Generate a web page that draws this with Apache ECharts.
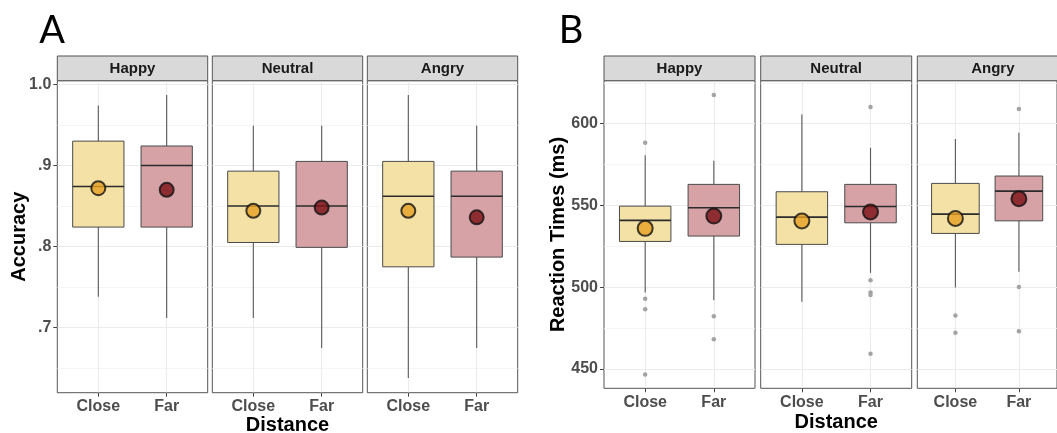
<!DOCTYPE html>
<html>
<head>
<meta charset="utf-8">
<script src="https://cdn.jsdelivr.net/npm/echarts@6/dist/echarts.min.js"></script>
<style>
  html, body { margin: 0; padding: 0; background: #fff; }
  #chart { width: 1057px; height: 433px; }
</style>
</head>
<body>
<div id="chart"></div>
<script>
// ---------------- DATA ----------------
const facets = ['Happy', 'Neutral', 'Angry'];
const distances = ['Close', 'Far'];

// Panel A: Accuracy  (per facet: [Close, Far])
const accMin    = [[0.738, 0.712], [0.712, 0.675], [0.638, 0.675]];
const accQ1     = [[0.824, 0.824], [0.805, 0.799], [0.775, 0.787]];
const accMedian = [[0.874, 0.900], [0.850, 0.850], [0.862, 0.862]];
const accQ3     = [[0.930, 0.924], [0.893, 0.905], [0.905, 0.893]];
const accMax    = [[0.974, 0.987], [0.949, 0.949], [0.987, 0.949]];
const accMean   = [[0.872, 0.870], [0.844, 0.848], [0.844, 0.836]];
const accTickValues = [0.7, 0.8, 0.9, 1.0];
const accTickLabels = ['.7', '.8', '.9', '1.0'];
const accMinorValues = [0.65, 0.75, 0.85, 0.95];

// Panel B: Reaction times (ms)
const rtMin    = [[496.8, 492.1], [491.1, 508.8], [499.9, 509.4]];
const rtQ1     = [[528.0, 531.3], [526.2, 539.4], [532.9, 540.6]];
const rtMedian = [[540.9, 548.6], [542.9, 549.4], [544.7, 558.8]];
const rtQ3     = [[549.6, 562.9], [558.4, 562.9], [563.5, 568.0]];
const rtMax    = [[580.7, 577.4], [605.7, 585.3], [590.6, 594.5]];
const rtMean   = [[536.0, 543.5], [540.5, 546.0], [542.1, 554.1]];
const rtOutliers = [
  [[588.4, 492.9, 486.6, 446.6], [617.6, 482.3, 468.2]],
  [[], [610.2, 504.3, 496.8, 495.2, 459.3]],
  [[482.7, 472.1], [609.0, 500.2, 473.1]]
];
const rtTickValues = [450, 500, 550, 600];
const rtTickLabels = ['450', '500', '550', '600'];
const rtMinorValues = [475, 525, 575, 625];

// ---------------- STYLE / LAYOUT ----------------
const boxFills = ['#f4e1a6', '#d6a2a6'];
const meanFills = ['#e6a024', '#7a1014'];
const panels = [
  { key: 'A', lefts: [57.3, 212.3, 367.3], width: 150.4, top: 80.7, height: 312,
    yMin: 0.6198, yMax: 1.0045, stats: [accMin, accQ1, accMedian, accQ3, accMax], mean: accMean,
    outliers: null, ticks: accTickValues, tickLabels: accTickLabels, minor: accMinorValues,
    title: 'Accuracy', titleX: 19, letterX: 52, distY: 425, meanSize: 14 },
  { key: 'B', lefts: [604, 760.7, 917.3], width: 151, top: 80.7, height: 307.6,
    yMin: 438.2, yMax: 626.3, stats: [rtMin, rtQ1, rtMedian, rtQ3, rtMax], mean: rtMean,
    outliers: rtOutliers, ticks: rtTickValues, tickLabels: rtTickLabels, minor: rtMinorValues,
    title: 'Reaction Times (ms)', titleX: 558, letterX: 571, distY: 422, meanSize: 15 }
];
const stripTop = 56, stripH = 24.7;
const FONT = '"Liberation Sans", Arial, sans-serif';

const grids = [], xAxes = [], yAxes = [], series = [], graphics = [];

function renderBox(params, api) {
  const x = api.value(0);
  const lo = api.coord([x, api.value(1)]);
  const q1 = api.coord([x, api.value(2)]);
  const md = api.coord([x, api.value(3)]);
  const q3 = api.coord([x, api.value(4)]);
  const hi = api.coord([x, api.value(5)]);
  const w = api.size([0.75, 0])[0];
  const fill = boxFills[params.dataIndex];
  return {
    type: 'group',
    children: [
      { type: 'line', shape: { x1: lo[0], y1: lo[1], x2: q1[0], y2: q1[1] }, style: { stroke: '#595959', lineWidth: 1.1 } },
      { type: 'line', shape: { x1: q3[0], y1: q3[1], x2: hi[0], y2: hi[1] }, style: { stroke: '#595959', lineWidth: 1.1 } },
      { type: 'rect', shape: { x: q3[0] - w / 2, y: q3[1], width: w, height: q1[1] - q3[1] },
        style: { fill: fill, stroke: '#4a4a4a', lineWidth: 1 } },
      { type: 'line', shape: { x1: md[0] - w / 2, y1: md[1], x2: md[0] + w / 2, y2: md[1] },
        style: { stroke: '#2b2b2b', lineWidth: 1.6 } }
    ]
  };
}

function nearIdx(arr, v) { return arr.findIndex(t => Math.abs(t - v) < 1e-6); }

panels.forEach((p, pi) => {
  p.lefts.forEach((left, fi) => {
    const gi = grids.length;
    grids.push({ left: left, top: p.top, width: p.width, height: p.height,
      show: true, borderColor: '#555', borderWidth: 1, backgroundColor: 'transparent', containLabel: false });
    xAxes.push({
      type: 'value', gridIndex: gi, min: 0.4, max: 2.6,
      axisLine: { show: false },
      splitLine: { show: false },
      axisTick: { show: true, customValues: [1, 2], length: 4, lineStyle: { color: '#444', width: 1 } },
      axisLabel: { show: true, customValues: [1, 2], margin: 6,
        formatter: v => distances[Math.round(v) - 1],
        color: '#4d4d4d', fontFamily: FONT, fontWeight: 'bold', fontSize: 16 }
    });
    const first = fi === 0;
    yAxes.push({
      type: 'value', gridIndex: gi, min: p.yMin, max: p.yMax,
      axisLine: { show: false },
      splitLine: { show: false },
      axisTick: { show: first, customValues: p.ticks, length: 4, lineStyle: { color: '#444', width: 1 } },
      axisLabel: { show: first, customValues: p.ticks, margin: 6,
        formatter: v => { const i = nearIdx(p.ticks, v); return i >= 0 ? p.tickLabels[i] : ''; },
        color: '#4d4d4d', fontFamily: FONT, fontWeight: 'bold', fontSize: 16 }
    });

    // grid lines (from tick arrays)
    const ml = [];
    p.ticks.forEach(v => ml.push({ yAxis: v, lineStyle: { color: '#ebebeb', width: 1.1 } }));
    p.minor.forEach(v => { if (v > p.yMin && v < p.yMax) ml.push({ yAxis: v, lineStyle: { color: '#f2f2f2', width: 0.8 } }); });
    [1, 2].forEach(v => ml.push({ xAxis: v, lineStyle: { color: '#ebebeb', width: 1.1 } }));
    series.push({
      type: 'scatter', xAxisIndex: gi, yAxisIndex: gi, data: [], z: 0, zlevel: 0, silent: true,
      markLine: { silent: true, z: 0, symbol: ['none', 'none'], label: { show: false }, animation: false,
        lineStyle: { type: 'solid' }, data: ml }
    });

    // boxes
    const boxData = distances.map((d, di) => [di + 1,
      p.stats[0][fi][di], p.stats[1][fi][di], p.stats[2][fi][di], p.stats[3][fi][di], p.stats[4][fi][di]]);
    series.push({
      type: 'custom', xAxisIndex: gi, yAxisIndex: gi, z: 6, silent: true,
      renderItem: renderBox, encode: { x: 0, y: [1, 2, 3, 4, 5] }, data: boxData
    });

    // outliers
    if (p.outliers) {
      const od = [];
      distances.forEach((d, di) => p.outliers[fi][di].forEach(v => od.push([di + 1, v])));
      series.push({
        type: 'scatter', xAxisIndex: gi, yAxisIndex: gi, z: 7, silent: true,
        symbol: 'circle', symbolSize: 4.5, itemStyle: { color: '#a3a3a3', opacity: 1 }, data: od
      });
    }

    // means
    series.push({
      type: 'scatter', xAxisIndex: gi, yAxisIndex: gi, z: 8, silent: true,
      symbol: 'circle', symbolSize: p.meanSize,
      data: distances.map((d, di) => ({ value: [di + 1, p.mean[fi][di]],
        itemStyle: { color: meanFills[di], borderColor: '#111', borderWidth: 2 } }))
    });

    // strip
    graphics.push({ type: 'rect', z: 10,
      shape: { x: left, y: stripTop, width: p.width, height: stripH },
      style: { fill: '#d9d9d9', stroke: '#555', lineWidth: 1 } });
    graphics.push({ type: 'text', z: 11, x: left + p.width / 2, y: stripTop + stripH / 2 + 1,
      style: { text: facets[fi], textAlign: 'center', textVerticalAlign: 'middle',
        font: 'bold 15px ' + FONT, fill: '#1a1a1a' } });
  });

  // axis titles
  graphics.push({ type: 'text', z: 11, x: p.titleX, y: p.top + p.height / 2, rotation: Math.PI / 2,
    style: { text: p.title, textAlign: 'center', textVerticalAlign: 'middle',
      font: 'bold 20px ' + FONT, fill: '#000' } });
  graphics.push({ type: 'text', z: 11, x: p.lefts[1] + p.width / 2, y: p.distY,
    style: { text: 'Distance', textAlign: 'center', textVerticalAlign: 'middle',
      font: 'bold 20px ' + FONT, fill: '#000' } });
  // panel letter
  graphics.push({ type: 'text', z: 11, x: p.letterX, y: 31,
    style: { text: p.key, textAlign: 'center', textVerticalAlign: 'middle',
      font: '38px Lato, "Open Sans", sans-serif', fill: '#000' } });
});

const chart = echarts.init(document.getElementById('chart'), null, { renderer: 'canvas' });
chart.setOption({
  animation: false,
  backgroundColor: '#fff',
  grid: grids,
  xAxis: xAxes,
  yAxis: yAxes,
  series: series,
  graphic: { elements: graphics }
});
</script>
</body>
</html>
